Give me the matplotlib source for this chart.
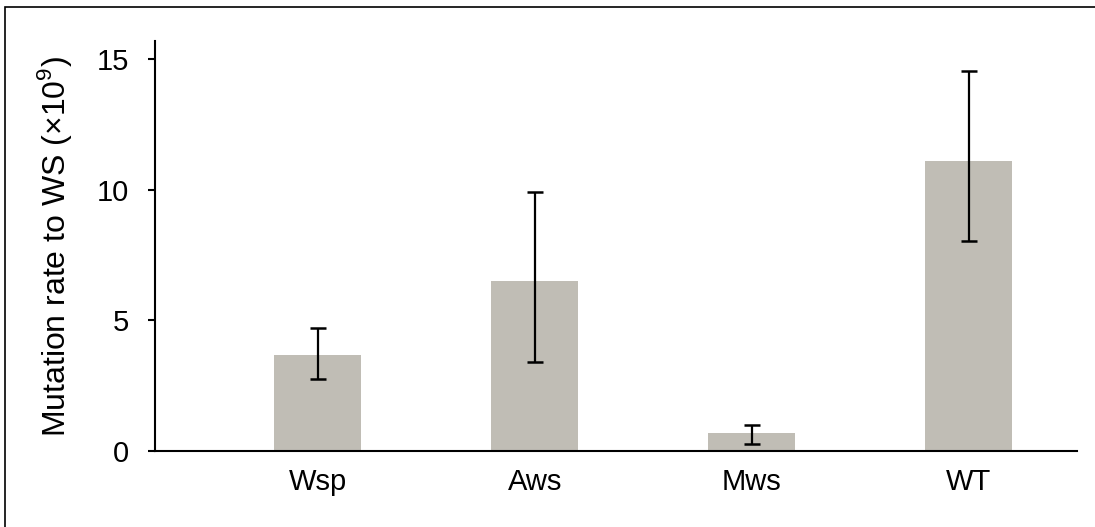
import numpy as np
import matplotlib.pyplot as plt
from matplotlib.patches import Rectangle

plt.rcParams['font.family'] = ['Liberation Sans', 'DejaVu Sans']
plt.rcParams['mathtext.fontset'] = 'custom'
plt.rcParams['mathtext.rm'] = 'Liberation Sans'

# dados
strains = ['Wsp', 'Aws', 'Mws', 'WT']
rates = [3.66, 6.5, 0.7, 11.1]
err_low = [2.74, 3.4, 0.26, 8.03]
err_high = [4.72, 9.9, 0.98, 14.55]

rates = np.array(rates)
yerr = [rates - np.array(err_low), np.array(err_high) - rates]

fig = plt.figure(figsize=(10.95, 5.27), dpi=100)
ax = fig.add_axes([0.1416, 0.1442, 0.842, 0.778])

x = np.arange(len(strains))
ax.bar(x, rates, width=0.4, color='#c0bdb5', zorder=1)
ax.errorbar(x, rates, yerr=yerr, fmt='none', ecolor='black', elinewidth=1.6,
            capsize=5.5, capthick=1.8, zorder=2)

ax.set_xlim(-0.75, 3.5)
ax.set_ylim(0, 15.7)
ax.set_yticks([0, 5, 10, 15])
ax.set_xticks(x)
ax.set_xticklabels(strains)

for s in ['top', 'right']:
    ax.spines[s].set_visible(False)
for s in ['left', 'bottom']:
    ax.spines[s].set_linewidth(1.5)

ax.tick_params(axis='y', direction='out', length=5, width=1.5, pad=14, labelsize=21)
ax.tick_params(axis='x', length=0, pad=12, labelsize=21)
ax.set_ylabel(r'Mutation rate to WS (×10$^{9}$)', fontsize=23, labelpad=16)

# moldura
fig.patches.append(Rectangle((5 / 1095, -0.1), 1.2, 1.1 - 7 / 527,
                             transform=fig.transFigure, fill=False,
                             edgecolor='black', linewidth=1.2))

fig.savefig('out.png', dpi=100)
